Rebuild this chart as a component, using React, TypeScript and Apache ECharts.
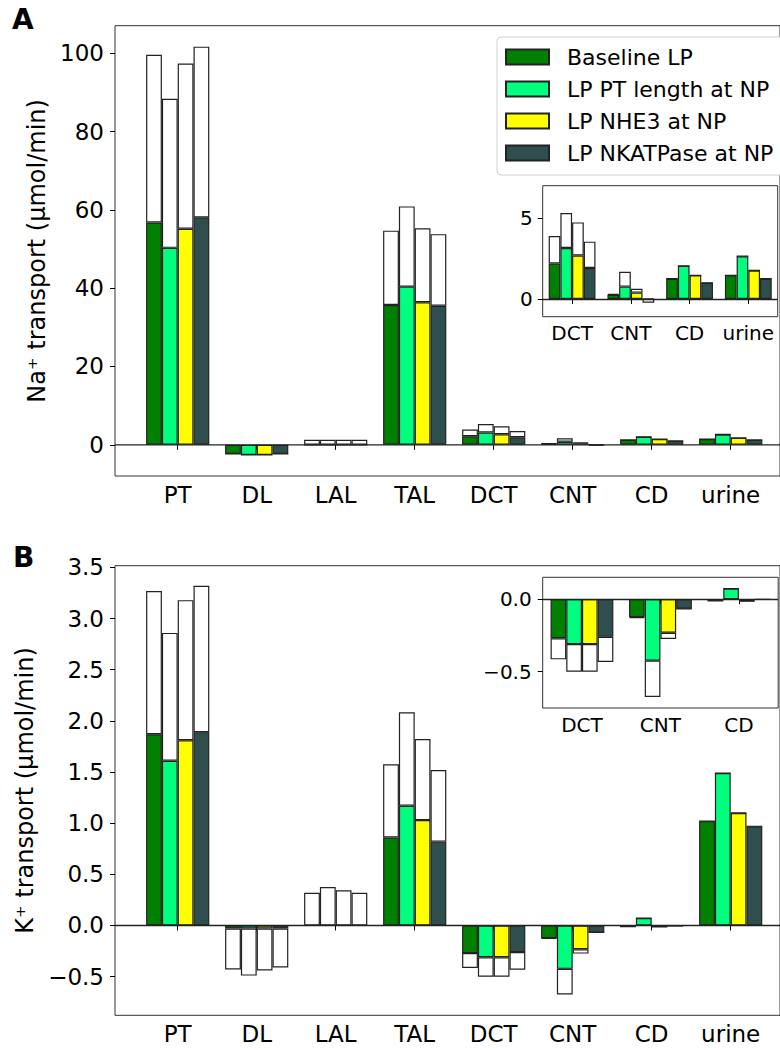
import React, { useEffect, useRef } from 'react';
import * as echarts from 'echarts';

// ---------- data ----------
const categories = ['PT', 'DL', 'LAL', 'TAL', 'DCT', 'CNT', 'CD', 'urine'];
const insetCategoriesNa = ['DCT', 'CNT', 'CD', 'urine'];
const insetCategoriesK = ['DCT', 'CNT', 'CD'];
const scenarioNames = ['Baseline LP', 'LP PT length at NP', 'LP NHE3 at NP', 'LP NKATPase at NP'];
const scenarioColors = ['#008000', '#00ff7f', '#ffff00', '#2f4f4f'];

// Na+ transport: coloured (lower) part and open/white (upper) part of each bar
const naFilledBaseline = [56.8, -2.35, 0, 35.7, 2.19, 0.25, 1.25, 1.46];
const naFilledPtLength = [50.3, -2.6, 0, 40.4, 3.15, 0.76, 2.05, 2.64];
const naFilledNhe3 = [55.2, -2.6, 0, 36.4, 2.68, 0.39, 1.46, 1.76];
const naFilledNka = [58.1, -2.35, 0, 35.5, 1.91, 0, 1.0, 1.25];
const naOpenBaseline = [42.8, 0, 1.3, 19.0, 1.7, 0.05, 0, 0];
const naOpenPtLength = [38.1, 0, 1.3, 20.5, 2.16, 0.92, 0, 0];
const naOpenNhe3 = [42.2, 0, 1.3, 18.9, 2.05, 0.24, 0, 0];
const naOpenNka = [43.6, 0, 1.3, 18.3, 1.63, -0.23, 0, 0];

// K+ transport
const kFilledBaseline = [1.87, -0.03, 0, 0.86, -0.27, -0.124, -0.012, 1.02];
const kFilledPtLength = [1.61, -0.03, 0, 1.17, -0.31, -0.424, 0.073, 1.49];
const kFilledNhe3 = [1.81, -0.03, 0, 1.03, -0.31, -0.232, -0.015, 1.1];
const kFilledNka = [1.89, -0.03, 0, 0.82, -0.26, -0.067, -0.003, 0.97];
const kOpenBaseline = [1.4, -0.4, 0.32, 0.715, -0.145, -0.006, 0, 0];
const kOpenPtLength = [1.25, -0.46, 0.376, 0.914, -0.19, -0.25, 0, 0];
const kOpenNhe3 = [1.37, -0.41, 0.344, 0.793, -0.19, -0.043, 0, 0];
const kOpenNka = [1.43, -0.38, 0.32, 0.7, -0.173, 0, 0, 0];

const naTicks = [0, 20, 40, 60, 80, 100];
const kTicks = [-0.5, 0, 0.5, 1.0, 1.5, 2.0, 2.5, 3.0, 3.5];
const naInsetTicks = [0, 5];
const kInsetTicks = [-0.5, 0];

const naFilled = [naFilledBaseline, naFilledPtLength, naFilledNhe3, naFilledNka];
const naOpen = [naOpenBaseline, naOpenPtLength, naOpenNhe3, naOpenNka];
const kFilled = [kFilledBaseline, kFilledPtLength, kFilledNhe3, kFilledNka];
const kOpen = [kOpenBaseline, kOpenPtLength, kOpenNhe3, kOpenNka];

// ---------- style ----------
const FONT = 'DejaVu Sans';
const EDGE = '#222';
const FRAME = '#333';
const minusFmt = (v: number, d: number) => (v < 0 ? '\u2212' : '') + Math.abs(v).toFixed(d);

function bars(
  filled: number[][],
  open: number[][],
  xi: number,
  yi: number,
  width: number,
  tag: string,
  pick: (a: number[]) => number[],
  zeroLine: boolean
) {
  const out: any[] = [];
  filled.forEach((arr, s) => {
    const ser: any = {
      type: 'bar',
      name: scenarioNames[s],
      xAxisIndex: xi,
      yAxisIndex: yi,
      stack: tag + s,
      stackStrategy: 'all',
      barWidth: width,
      barGap: '0%',
      data: pick(arr),
      itemStyle: { color: scenarioColors[s], borderColor: EDGE, borderWidth: 1.2 },
      emphasis: { disabled: true },
    };
    if (zeroLine && s === 0) {
      ser.markLine = {
        silent: true,
        symbol: 'none',
        data: [{ yAxis: 0 }],
        label: { show: false },
        lineStyle: { color: EDGE, width: 1.3, type: 'solid' },
      };
    }
    out.push(ser);
  });
  open.forEach((arr, s) => {
    out.push({
      type: 'bar',
      name: scenarioNames[s] + ' (open)',
      xAxisIndex: xi,
      yAxisIndex: yi,
      stack: tag + s,
      stackStrategy: 'all',
      barWidth: width,
      barGap: '0%',
      data: pick(arr),
      itemStyle: { color: '#ffffff', borderColor: EDGE, borderWidth: 1.2 },
      emphasis: { disabled: true },
    });
  });
  return out;
}

function yName(ion: string) {
  return {
    name: `${ion}\u207a transport (\u03bcmol/min)`,
    nameLocation: 'middle',
    nameRotate: 90,
    nameGap: 66,
    nameTextStyle: { color: '#000', fontFamily: FONT, fontSize: 24 },
  };
}

function buildOption(): any {
  const all = (a: number[]) => a;
  const naInset = (a: number[]) => a.slice(4);
  const kInset = (a: number[]) => a.slice(4, 7);

  const frameGrid = (top: number, height: number) => ({
    left: 115, top, width: 678, height, show: true, borderColor: FRAME, borderWidth: 1,
    backgroundColor: 'transparent',
  });
  const dataGrid = (top: number, height: number) => ({ left: 138.2, top, width: 632, height });
  const insetGrid = (top: number, width: number, height: number) => ({
    left: 542.7, top, width, height, show: true, borderColor: FRAME, borderWidth: 1, backgroundColor: '#fff',
  });

  const catAxis = (gi: number, data: string[], size: number, margin: number) => ({
    gridIndex: gi,
    type: 'category',
    data,
    position: 'bottom',
    axisLine: { show: false },
    axisTick: { show: true, alignWithLabel: true, length: 5, interval: 0, lineStyle: { color: '#000', width: 1 } },
    axisLabel: { fontSize: size, color: '#000', fontFamily: FONT, margin, interval: 0, hideOverlap: false },
    splitLine: { show: false },
  });
  const valAxis = (gi: number, min: number, max: number, ticks: number[], fmt: (v: number) => string, size: number, margin: number, extra: any = {}) => ({
    gridIndex: gi,
    type: 'value',
    min,
    max,
    axisLine: { show: false },
    axisTick: { show: true, length: 5, customValues: ticks, lineStyle: { color: '#000', width: 1 } },
    axisLabel: { customValues: ticks, formatter: fmt, fontSize: size, color: '#000', fontFamily: FONT, margin },
    splitLine: { show: false },
    ...extra,
  });
  const hiddenY = (gi: number, min: number, max: number) => ({ gridIndex: gi, type: 'value', min, max, show: false, splitLine: { show: false } });

  const NA_MIN = -7.97, NA_MAX = 107.05;
  const K_MIN = -0.878, K_MAX = 3.517;

  return {
    animation: false,
    textStyle: { fontFamily: FONT },
    grid: [
      frameGrid(25.7, 450.3),
      dataGrid(25.7, 450.3),
      insetGrid(185.7, 235, 131),
      frameGrid(565.7, 449.6),
      dataGrid(565.7, 449.6),
      insetGrid(577.3, 235.5, 130.7),
    ],
    xAxis: [
      { gridIndex: 0, type: 'value', min: 0, max: 1, show: false },
      catAxis(1, categories, 23, 7),
      catAxis(2, insetCategoriesNa, 20, 6),
      { gridIndex: 3, type: 'value', min: 0, max: 1, show: false },
      catAxis(4, categories, 23, 7),
      catAxis(5, insetCategoriesK, 20, 7),
    ],
    yAxis: [
      valAxis(0, NA_MIN, NA_MAX, naTicks, (v: number) => minusFmt(v, 0), 23, 11, yName('Na')),
      hiddenY(1, NA_MIN, NA_MAX),
      valAxis(2, -1.1, 7, naInsetTicks, (v: number) => minusFmt(v, 0), 20, 10),
      valAxis(3, K_MIN, K_MAX, kTicks, (v: number) => minusFmt(v, 1), 23, 11, yName('K')),
      hiddenY(4, K_MIN, K_MAX),
      valAxis(5, -0.75, 0.15, kInsetTicks, (v: number) => minusFmt(v, 1), 20, 11),
    ],
    legend: {
      data: scenarioNames,
      orient: 'vertical',
      left: 497,
      top: 37,
      itemWidth: 43,
      itemHeight: 15,
      itemGap: 10,
      padding: [9, 10, 11, 8],
      backgroundColor: '#fff',
      borderColor: '#d0d0d0',
      borderWidth: 1,
      borderRadius: 4,
      icon: 'rect',
      selectedMode: false,
      textStyle: { fontSize: 22, fontFamily: FONT, color: '#000', lineHeight: 20, padding: [0, 0, 0, 13] },
    },
    graphic: [
      { type: 'text', left: 12, top: 5, style: { text: 'A', fontSize: 28, fontWeight: 'bold', fontFamily: FONT, fill: '#000' } },
      { type: 'text', left: 13, top: 543, style: { text: 'B', fontSize: 28, fontWeight: 'bold', fontFamily: FONT, fill: '#000' } },
    ],
    series: [
      { type: 'line', xAxisIndex: 0, yAxisIndex: 0, data: [[0, 0], [1, 0]], symbol: 'none', silent: true, z: 5, lineStyle: { color: EDGE, width: 1.3 } },
      ...bars(naFilled, naOpen, 1, 1, 15.8, 'na', all, false),
      ...bars(naFilled, naOpen, 2, 2, 11.7, 'nai', naInset, true),
      { type: 'line', xAxisIndex: 3, yAxisIndex: 3, data: [[0, 0], [1, 0]], symbol: 'none', silent: true, z: 5, lineStyle: { color: EDGE, width: 1.3 } },
      ...bars(kFilled, kOpen, 4, 4, 15.8, 'k', all, false),
      ...bars(kFilled, kOpen, 5, 5, 15.7, 'ki', kInset, true),
    ],
  };
}

export default function App() {
  const ref = useRef<HTMLDivElement>(null);
  useEffect(() => {
    document.body.style.margin = '0';
    const chart = echarts.init(ref.current!, null, { renderer: 'svg' });
    chart.setOption(buildOption());
    return () => chart.dispose();
  }, []);
  return <div ref={ref} style={{ width: 780, height: 1050 }} />;
}
